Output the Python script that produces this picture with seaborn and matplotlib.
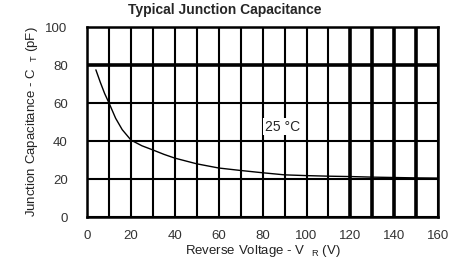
import matplotlib
matplotlib.use("Agg")
import matplotlib.pyplot as plt
import seaborn as sns
import pandas as pd

# Typical junction capacitance vs reverse voltage (25 C)
voltage = [4, 6, 8, 10, 13, 16, 20, 25, 30, 35, 40, 50, 60, 70, 80, 90, 100, 110, 120, 130, 140, 150, 160]
capacitance = [77.5, 71, 65, 60, 52, 46, 40.5, 37.5, 35.3, 33, 31, 28, 25.8, 24.5, 23.3, 22.2, 21.8, 21.5, 21.3, 21.0, 20.8, 20.6, 20.5]
x_ticks = [0, 20, 40, 60, 80, 100, 120, 140, 160]
y_ticks = [0, 20, 40, 60, 80, 100]
thick_v = [120, 130, 140, 150]
thick_h = [80]

df = pd.DataFrame({"V": voltage, "C": capacitance})

sns.set_style("white")
plt.rcParams["font.family"] = ["Liberation Sans", "DejaVu Sans"]
plt.rcParams["mathtext.fontset"] = "custom"
plt.rcParams["mathtext.rm"] = "Liberation Sans"

fig = plt.figure(figsize=(4.49, 2.74), dpi=100)
ax = fig.add_axes([0.194, 0.208, 0.782, 0.693])

# grid
for v in range(0, 161, 10):
    lw = 2.6 if v in thick_v else 1.5
    ax.axvline(v, color="black", lw=lw, zorder=1)
for c in y_ticks:
    lw = 2.6 if c in thick_h else 1.5
    ax.axhline(c, color="black", lw=lw, zorder=1)

sns.lineplot(data=df, x="V", y="C", ax=ax, color="black", lw=1.0, zorder=3)

ax.text(89, 47.5, "25 °C", ha="center", va="center", fontsize=10,
        bbox=dict(facecolor="white", edgecolor="none", pad=1), zorder=4)

ax.set_xlim(0, 160)
ax.set_ylim(0, 100)
ax.set_xticks(x_ticks)
ax.set_yticks(y_ticks)
ax.tick_params(length=0, labelsize=9.5, colors="#333333")
ax.tick_params(axis="x", pad=9)
ax.tick_params(axis="y", pad=14)
for s in ax.spines.values():
    s.set_linewidth(1.8)
    s.set_color("black")

ax.set_xlabel(r"Reverse Voltage - V  $_{\rm R}$ (V)", fontsize=9.5, labelpad=1, color="#222222")
ax.set_ylabel(r"Junction Capacitance - C  $_{\rm T}$ (pF)", fontsize=9.5, labelpad=4, color="#222222")
fig.text(0.5, 0.965, "Typical Junction Capacitance", ha="center", va="center",
         fontsize=10, fontweight="bold")

fig.savefig("out.png", dpi=100)
